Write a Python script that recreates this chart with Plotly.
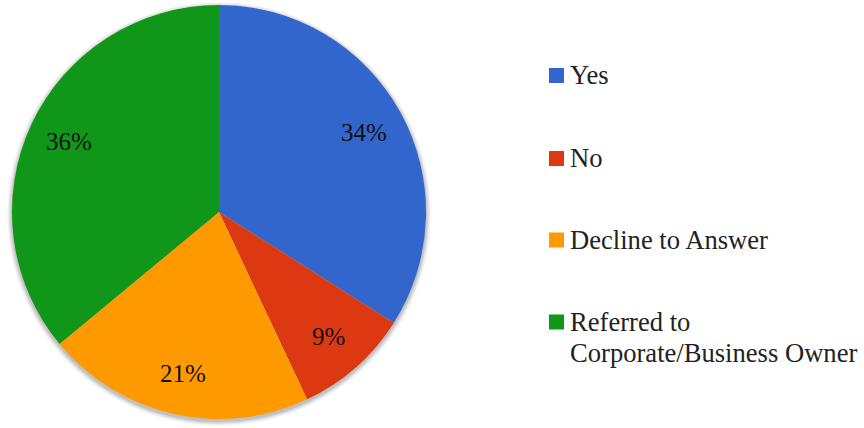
import math
import plotly.graph_objects as go

# Data
labels = ["Yes", "No", "Decline to Answer", "Referred to Corporate/Business Owner"]
values = [34, 9, 21, 36]
colors = ["#3366CC", "#DC3912", "#FF9900", "#109618"]

W, H = 864, 428
# pie geometry (pixels)
cx, cy, R = 219, 212, 207
dom_x = [(cx - R) / W, (cx + R) / W]
dom_y = [(H - cy - R) / H, (H - cy + R) / H]

fig = go.Figure()

# soft shadow layers behind pie
for i, (dr, op) in enumerate([(5, 0.03), (4, 0.04), (3, 0.05), (2, 0.06), (1, 0.08)]):
    scx, scy, sR = cx + 0, cy + 2, R + dr
    fig.add_trace(go.Pie(
        values=[1], labels=["shadow%d" % i], sort=False, showlegend=False,
        marker=dict(colors=["rgba(0,0,0,%g)" % op], line=dict(width=0)),
        textinfo="none", hoverinfo="skip",
        domain=dict(x=[(scx - sR) / W, (scx + sR) / W],
                    y=[(H - scy - sR) / H, (H - scy + sR) / H]),
    ))

fig.add_trace(go.Pie(
    labels=labels, values=values, sort=False, direction="clockwise", rotation=0,
    marker=dict(colors=colors, line=dict(width=0)),
    textinfo="none", hoverinfo="label+percent", showlegend=False,
    domain=dict(x=dom_x, y=dom_y),
))

annotations = []
# slice labels placed along each slice bisector
total = sum(values)
cum = 0
frac_r = 0.80
for v in values:
    mid = (cum + v / 2) / total * 2 * math.pi
    cum += v
    px = cx + frac_r * R * math.sin(mid)
    py = cy - frac_r * R * math.cos(mid)
    annotations.append(dict(
        x=px / W, y=1 - py / H, xref="paper", yref="paper",
        text="%d%%" % round(v / total * 100), showarrow=False,
        font=dict(family="Liberation Serif", size=25, color="#111111"),
        xanchor="center", yanchor="middle",
    ))

# legend
leg_x = 549
leg_y = [75.5, 158.5, 240, 322]
box = 15
line_gap = 31
shapes = []
for lab, col, ly in zip(labels, colors, leg_y):
    shapes.append(dict(type="rect", xref="paper", yref="paper",
                       x0=leg_x / W, x1=(leg_x + box) / W,
                       y0=1 - (ly + box / 2) / H, y1=1 - (ly - box / 2) / H,
                       fillcolor=col, line=dict(width=0)))
    lines = lab.replace("Referred to ", "Referred to\n").split("\n")
    for k, t in enumerate(lines):
        annotations.append(dict(
            x=(leg_x + box + 4) / W, y=1 - (ly + k * line_gap) / H,
            xref="paper", yref="paper",
            text=t, showarrow=False, align="left",
            font=dict(family="Liberation Serif", size=26.6, color="#222222"),
            xanchor="left", yanchor="middle",
        ))

fig.update_layout(
    width=W, height=H, margin=dict(l=0, r=0, t=0, b=0),
    paper_bgcolor="white", plot_bgcolor="white",
    annotations=annotations, shapes=shapes, showlegend=False,
)

fig.write_html("out.html")
